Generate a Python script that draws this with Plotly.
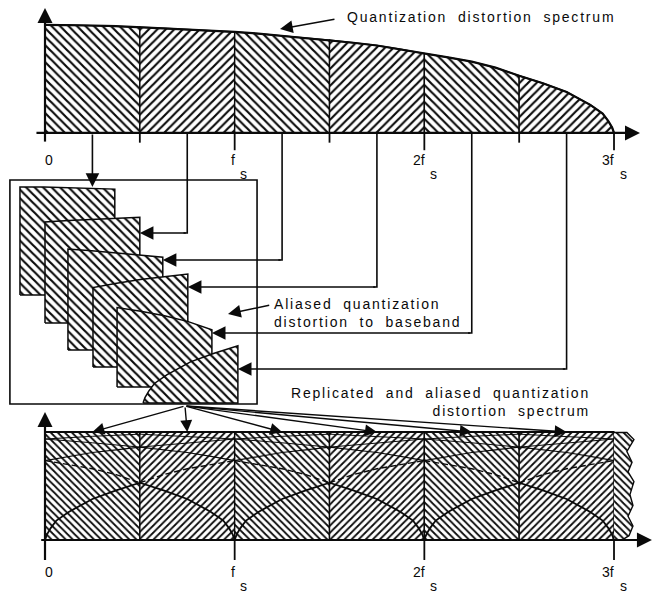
import plotly.graph_objects as go

# Quantization distortion spectrum: frequency in units of fs, normalised level
freq = [0.0, 0.125, 0.25, 0.375, 0.5, 0.625, 0.75, 0.875, 1.0, 1.125, 1.25, 1.375,
        1.5, 1.625, 1.75, 1.875, 2.0, 2.125, 2.25, 2.375, 2.5, 2.625, 2.75,
        2.875, 2.94, 2.97, 2.99, 3.0]
level = [1.00, 1.00, 0.995, 0.99, 0.98, 0.97, 0.96, 0.95, 0.935, 0.92, 0.90, 0.88,
         0.86, 0.835, 0.81, 0.775, 0.735, 0.70, 0.66, 0.605, 0.53, 0.46, 0.38,
         0.26, 0.18, 0.11, 0.05, 0.0]

tick_pos = [0, 1, 2, 3]
tick_main = ["0", "f", "2f", "3f"]
tick_sub = ["", "s", "s", "s"]

text_top = "Quantization distortion spectrum"
text_mid = ["Aliased quantization", "distortion to baseband"]
text_bot = ["Replicated and aliased quantization", "distortion spectrum"]

# ---- layout geometry (axis units: x in fs, y in normalised level) ----
BAND = 0.5
N_BANDS = 6
TOP_BASE = 3.769          # baseline of the upper spectrum
BOT_BASE = 0.0            # baseline of the replicated spectrum
MID_LEFT = [-0.132, 0.0, 0.121, 0.253, 0.380, 0.517]
MID_BOTTOM = [2.269, 2.009, 1.759, 1.602, 1.417, 1.269]
LINK_Y = [None, 2.843, 2.593, 2.343, 1.917, 1.583]
BOX = dict(x0=-0.185, x1=1.118, y0=1.259, y1=3.333)
FAN_FROM = (0.738, 1.241)
TORN_EDGE = [(0.0, 0.995), (0.068, 0.995), (0.105, 0.93), (0.068, 0.82), (0.095, 0.72),
             (0.074, 0.63), (0.105, 0.54), (0.084, 0.42), (0.10, 0.32), (0.074, 0.22),
             (0.10, 0.13), (0.079, 0.04), (0.042, 0.0), (0.0, 0.0)]

HATCH = ["\\", "/"]
INK = "#0a0a0a"
FONT = "Liberation Sans, Arial, Helvetica, sans-serif"


def band_points(k):
    """Points of band k folded into baseband (odd bands are mirrored)."""
    a, b = k * BAND, (k + 1) * BAND
    pts = [(f, v) for f, v in zip(freq, level) if a - 1e-9 <= f <= b + 1e-9]
    if k % 2 == 0:
        return [(f - a, v) for f, v in pts]
    return sorted((b - f, v) for f, v in pts)


def pattern(shape, size=6, solidity=0.36):
    return dict(shape=shape, fgcolor=INK, bgcolor="white", size=size,
                solidity=solidity, fillmode="replace")


fig = go.Figure()


def add_line(xs, ys, width=1.6, dash="solid"):
    fig.add_trace(go.Scatter(x=xs, y=ys, mode="lines", hoverinfo="skip",
                             line=dict(color=INK, width=width, dash=dash)))


def add_poly(xs, ys, shape, size=6, width=1.4):
    fig.add_trace(go.Scatter(x=xs, y=ys, mode="lines", fill="toself",
                             fillcolor="white", fillpattern=pattern(shape, size),
                             hoverinfo="skip", line=dict(color=INK, width=width)))


arrows = []


def add_arrow(x, y, ax, ay, width=1.5, size=1.7):
    arrows.append(dict(x=x, y=y, ax=ax, ay=ay, xref="x", yref="y", axref="x", ayref="y",
                       text="", showarrow=True, arrowhead=2, arrowsize=size,
                       arrowwidth=width, arrowcolor=INK, standoff=0))


# ---- upper spectrum ----
for k in range(N_BANDS):
    a, b = k * BAND, (k + 1) * BAND
    pts = [(f, v) for f, v in zip(freq, level) if a - 1e-9 <= f <= b + 1e-9]
    xs = [a] + [p[0] for p in pts] + [b, a]
    ys = [TOP_BASE] + [TOP_BASE + p[1] for p in pts] + [TOP_BASE, TOP_BASE]
    add_poly(xs, ys, HATCH[k % 2])
add_line(freq, [TOP_BASE + v for v in level], width=2.2)

# axes of the upper spectrum
add_line([-0.045, 3.08], [TOP_BASE, TOP_BASE], width=2.2)
add_arrow(3.137, TOP_BASE, 3.03, TOP_BASE, width=2, size=1.5)
add_line([0, 0], [TOP_BASE - 0.08, TOP_BASE + 1.1], width=2.2)
add_arrow(0, TOP_BASE + 1.157, 0, TOP_BASE + 1.03, width=2, size=1.5)
for k in range(1, 2 * N_BANDS + 1):
    x = k * BAND
    depth = 0.16 if k % 2 == 0 else 0.09
    add_line([x, x], [TOP_BASE, TOP_BASE - depth], width=1.8)

# ---- links from each band to its folded copy ----
for k in range(N_BANDS):
    xc = (k + 0.5) * BAND
    if LINK_Y[k] is None:
        add_arrow(xc, MID_BOTTOM[k] + level[0], xc, TOP_BASE, width=1.6)
    else:
        add_line([xc, xc, xc - 0.02], [TOP_BASE, LINK_Y[k], LINK_Y[k]], width=1.6)
        add_arrow(MID_LEFT[k] + BAND, LINK_Y[k], xc, LINK_Y[k], width=1.6)

# ---- folded bands stacked in baseband ----
for k in range(N_BANDS):
    L, B = MID_LEFT[k], MID_BOTTOM[k]
    bp = band_points(k)
    xs = [L] + [L + u for u, _ in bp] + [L + BAND, L]
    ys = [B] + [B + v for _, v in bp] + [B, B]
    add_poly(xs, ys, "\\", size=6, width=1.5)

# ---- replicated and aliased spectrum ----
top_flat = level[0]
for n in range(N_BANDS):
    a, b = n * BAND, (n + 1) * BAND
    add_poly([a, a, b, b, a], [BOT_BASE, BOT_BASE + top_flat, BOT_BASE + top_flat, BOT_BASE, BOT_BASE],
             HATCH[n % 2], size=5, width=1.4)
add_poly([3.0 + dx for dx, _ in TORN_EDGE], [BOT_BASE + y for _, y in TORN_EDGE], "\\", size=5, width=1.4)

comp_style = {1: (1.0, "solid"), 2: (1.0, "solid"), 3: (1.2, "solid"),
              4: (1.4, "6px,3px"), 5: (1.8, "solid")}
for k, (w, dash) in comp_style.items():
    bp = band_points(k)
    xs, ys = [], []
    for n in range(N_BANDS):
        seg = bp if n % 2 == 0 else list(reversed(bp))
        for u, v in seg:
            xs.append(n * BAND + (u if n % 2 == 0 else BAND - u))
            ys.append(BOT_BASE + v)
        xs.append(None)
        ys.append(None)
    add_line(xs, ys, width=w, dash=dash)
add_line([0, 3.0], [BOT_BASE + top_flat, BOT_BASE + top_flat], width=2.0)

# axes of the replicated spectrum
add_line([-0.02, 3.14], [BOT_BASE, BOT_BASE], width=2.2)
add_arrow(3.20, BOT_BASE, 3.10, BOT_BASE, width=2, size=1.5)
add_line([0, 0], [BOT_BASE - 0.185, BOT_BASE + 1.12], width=2.2)
add_arrow(0, BOT_BASE + 1.185, 0, BOT_BASE + 1.07, width=2, size=1.5)
for x in tick_pos[1:]:
    add_line([x, x], [BOT_BASE, BOT_BASE - 0.185], width=1.8)

# fan of arrows from baseband to every replica
for k in range(N_BANDS):
    add_arrow((k + 0.5) * BAND, BOT_BASE + top_flat, FAN_FROM[0], FAN_FROM[1], width=1.4)

# pointers from captions
add_arrow(1.239, 4.731, 1.534, 4.824, width=1.5)
add_arrow(0.965, 2.093, 1.19, 2.176, width=1.5)

# ---- text ----
SPACED = '<span style="letter-spacing:1.8px;word-spacing:5px">{}</span>'
text_font = dict(family=FONT, size=14, color=INK)
notes = [
    dict(x=1.582, y=4.843, text=SPACED.format(text_top), xanchor="left", yanchor="middle"),
    dict(x=1.197, y=2.10, text="<br>".join(SPACED.format(t) for t in text_mid),
         xanchor="left", yanchor="middle", align="left"),
    dict(x=2.884, y=1.275, text="<br>".join(SPACED.format(t) for t in text_bot),
         xanchor="right", yanchor="middle", align="right"),
]
for base, dy_main, dy_sub in [(TOP_BASE, 0.25, 0.38), (BOT_BASE, 0.30, 0.43)]:
    for x, m, s in zip(tick_pos, tick_main, tick_sub):
        if s:
            notes.append(dict(x=x + 0.012, y=base - dy_main, text=m, xanchor="right", yanchor="middle"))
            notes.append(dict(x=x + 0.02, y=base - dy_sub, text=s, xanchor="left", yanchor="middle"))
        else:
            notes.append(dict(x=x + 0.02, y=base - dy_main, text=m, xanchor="center", yanchor="middle"))
for n in notes:
    n.update(xref="x", yref="y", showarrow=False, font=text_font)

fig.update_layout(
    width=653, height=594,
    margin=dict(l=0, r=0, t=0, b=0),
    paper_bgcolor="white", plot_bgcolor="white",
    showlegend=False,
    xaxis=dict(range=[-45 / 189.67, 608 / 189.67], visible=False, fixedrange=True),
    yaxis=dict(range=[-0.5, 5.0], visible=False, fixedrange=True),
    shapes=[dict(type="rect", xref="x", yref="y", layer="below",
                 line=dict(color=INK, width=1.6), **BOX)],
    annotations=arrows + notes,
)

fig.write_html("out.html")
